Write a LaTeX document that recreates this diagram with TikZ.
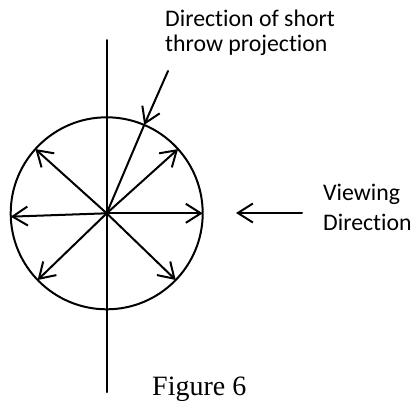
\documentclass[tikz,border=0pt]{standalone}
\usepackage{fontspec}
\setmainfont{Liberation Serif}
\newfontfamily\calib[Ligatures=NoCommon]{Carlito}
\usetikzlibrary{arrows.meta}
\tikzset{
  ln/.style={line width=2pt, line cap=round},
  arr/.style={ln, -{Straight Barb[length=15pt,width=19pt,line width=2pt]}},
  lbl/.style={anchor=base west, inner sep=0pt, font=\calib\fontsize{23.8}{26}\selectfont},
  capt/.style={anchor=base west, inner sep=0pt, font=\fontsize{28}{30}\selectfont}
}
\begin{document}
\begin{tikzpicture}[x=1pt,y=-1pt]
\useasboundingbox (0,0) rectangle (414,402);
\coordinate (c) at (106.7,213.3);
\coordinate (vtop) at (106.7,40);
\coordinate (vbot) at (106.7,392);
\node[circle, draw, ln, minimum size=192pt, inner sep=0pt, outer sep=0pt] (circ) at (c) {};
\draw[ln] (vtop) -- (vbot);
% radial arrows
\draw[arr] (c) -- (circ.0);
\draw[arr] (c) -- (circ.182.4);
\draw[arr] (c) -- (circ.42.9);
\draw[arr] (c) -- (circ.138.7);
\draw[arr] (c) -- (circ.224);
\draw[arr] (c) -- (circ.316.7);
% short throw projection
\coordinate (p0) at (168,71);
\draw[arr] (p0) -- (circ.67.5);
\draw[ln] (circ.67.5) -- (c);
% viewing direction
\coordinate (v0) at (302,213);
\coordinate (v1) at (236,213);
\draw[arr] (v0) -- (v1);
% labels
\node[lbl] (t1) at (165,26) {Direction of short};
\node[lbl] (t2) at (165,51) {throw projection};
\node[lbl] (t3) at (323,200) {Viewing};
\node[lbl] (t4) at (323,230) {Direction};
\node[capt] (fig) at (152,395) {Figure 6};
\end{tikzpicture}
\end{document}
